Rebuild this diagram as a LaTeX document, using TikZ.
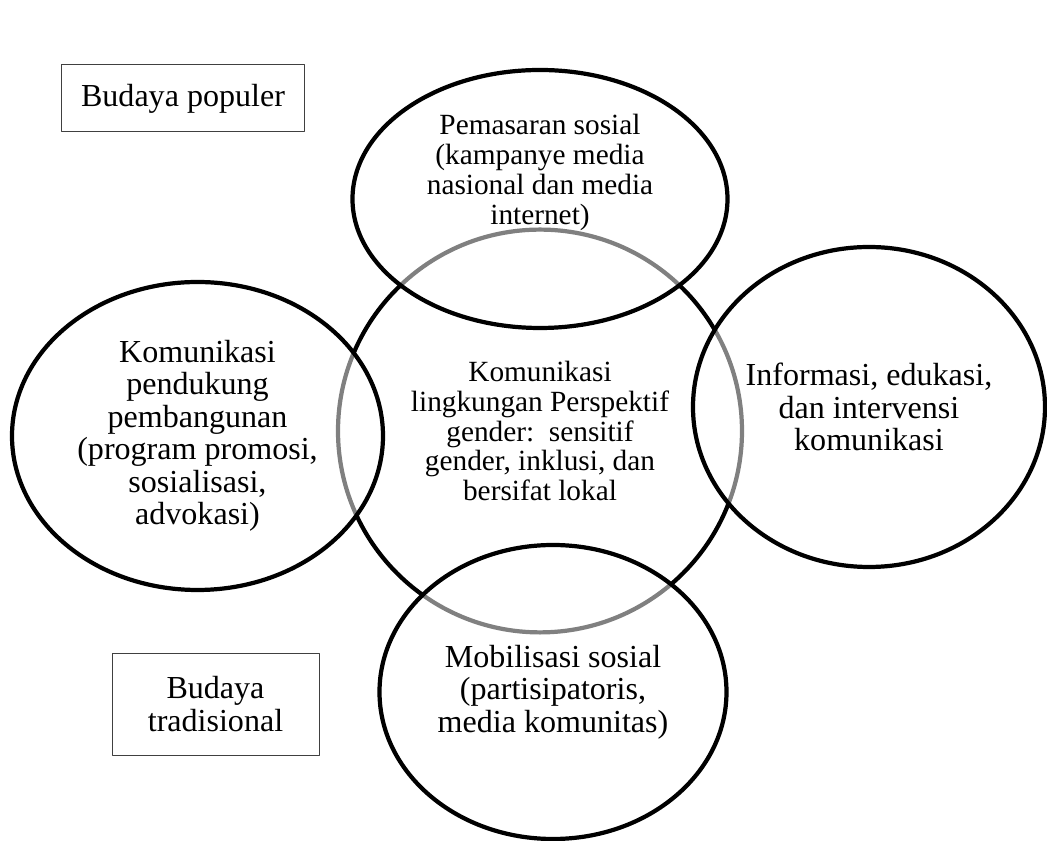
\documentclass[tikz,border=0pt]{standalone}
\usepackage{fontspec}
\setmainfont{Liberation Serif}
\usetikzlibrary{shapes.geometric}

\begin{document}
\begin{tikzpicture}[line join=round]
    \tikzstyle{bubble}=[shape=ellipse, draw, line width=3pt, inner sep=0pt, fill=white, fill opacity=0.5, draw opacity=1]
    \tikzstyle{big}=[align=center, font=\fontsize{22.8}{23.1}\selectfont]
    \tikzstyle{small}=[align=center, font=\fontsize{20.85}{21.3}\selectfont]
    \tikzstyle{budaya}=[draw=black!75, line width=0.7pt, inner sep=0pt, align=center, font=\fontsize{22.8}{23.1}\selectfont]
    \useasboundingbox (-13.5, 10.775) rectangle (12.675, -10.25);
	\node [shape=ellipse, draw, line width=3pt, minimum width=10.1cm, minimum height=10.07cm] (pusat) at (0, 0) {};
	\node [bubble, minimum width=9.375cm, minimum height=6.45cm] (pemasaran) at (0, 5.8) {};
	\node [bubble, minimum width=9.275cm, minimum height=7.7cm] (pendukung) at (-8.5625, -0.125) {};
	\node [bubble, minimum width=8.8cm, minimum height=8cm] (informasi) at (8.225, 0.6) {};
	\node [bubble, minimum width=8.675cm, minimum height=7.35cm] (mobilisasi) at (0.325, -6.525) {};
	
	\node [small] (t-pusat) at (pusat.center) {Komunikasi\\ lingkungan Perspektif\\ gender:\ \ sensitif\\ gender, inklusi, dan\\ bersifat lokal};
	\node [small] (t-pemasaran) at ([yshift=0.66cm]pemasaran.center) {Pemasaran sosial\\ (kampanye media\\ nasional dan media\\ internet)};
	\node [big] (t-pendukung) at (pendukung.center) {Komunikasi\\ pendukung\\ pembangunan\\ (program promosi,\\ sosialisasi,\\ advokasi)};
	\node [big] (t-informasi) at (informasi.center) {Informasi, edukasi,\\ dan intervensi\\ komunikasi};
	\node [big] (t-mobilisasi) at (mobilisasi.center) {Mobilisasi sosial\\ (partisipatoris,\\ media komunitas)};
	
	\node [budaya, minimum width=6.075cm, minimum height=1.675cm] (populer) at (-8.925, 8.3125) {Budaya populer};
	\node [budaya, minimum width=5.175cm, minimum height=2.55cm] (tradisional) at (-8.1125, -6.825) {Budaya\\ tradisional};
	\end{tikzpicture}
\end{document}
